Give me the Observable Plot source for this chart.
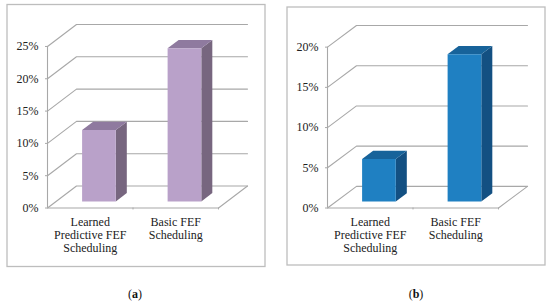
<!DOCTYPE html>
<html><head><meta charset="utf-8">
<script src="https://cdn.jsdelivr.net/npm/d3@7"></script>
<script src="https://cdn.jsdelivr.net/npm/@observablehq/plot@0.6"></script>
<style>
html,body{margin:0;padding:0;background:#fff;width:550px;height:303px;overflow:hidden}
.panel{position:absolute;top:0;width:275px;height:303px}
.panel svg{position:absolute;left:0;top:0;background:transparent}
.panel svg text{font-family:"Liberation Serif",serif !important;font-size:12px}
.cap{position:absolute;top:287px;font:12px "Liberation Serif",serif;color:#111;transform:translateX(-50%)}
.cap b{font-weight:bold}
</style></head><body>
<div id="a" class="panel" style="left:0"></div>
<div id="b" class="panel" style="left:275px"></div>
<script>
const categories = ["Learned\nPredictive FEF\nScheduling", "Basic FEF\nScheduling"];
const valuesA = [11.05, 23.7];
const valuesB = [5.3, 18.3];
const ticksA = [0, 5, 10, 15, 20, 25];
const ticksB = [0, 5, 10, 15, 20];
const coloursA = {front: "#b9a1c9", top: "#8f7a9f", side: "#77667f"};
const coloursB = {front: "#1f80c2", top: "#17639a", side: "#135082"};

function panel(cfg) {
  const {values, ticks, colours, rise, marginLeft, marginTop, frame} = cfg;
  const top = ticks[ticks.length - 1];
  // oblique projection: depth z (0 front, 1 back) shifts in x and in value
  const run = 0.339;
  const px = (x, z) => x + z * run;
  const py = (v, z) => v + z * rise;
  const z0 = 0.3, z1 = 0.68, half = 0.197;
  const pt = (id, x, v, z) => ({id, x: px(x, z), y: py(v, z)});

  const grid = ticks.flatMap((t) => [
    {id: t, x: px(0, 0), y: py(t, 0)},
    {id: t, x: px(0, 1), y: py(t, 1)},
    {id: t, x: px(2, 1), y: py(t, 1)}
  ]);
  const floorEdge = [pt("f", 2, 0, 0), pt("f", 2, 0, 1)];
  const bars = values.map((v, i) => ({c: i + 0.5, v}));
  const poly = (face) => bars.flatMap(({c, v}, i) => {
    const l = c - half, r = c + half, id = face + i;
    if (face === "front") return [pt(id, l, 0, z0), pt(id, r, 0, z0), pt(id, r, v, z0), pt(id, l, v, z0)];
    if (face === "top") return [pt(id, l, v, z0), pt(id, r, v, z0), pt(id, r, v, z1), pt(id, l, v, z1)];
    return [pt(id, r, 0, z0), pt(id, r, 0, z1), pt(id, r, v, z1), pt(id, r, v, z0)];
  });
  const stroke = "#a8a8a8";
  return Plot.plot({
    width: 275, height: 303,
    marginLeft, marginRight: 275 - marginLeft - cfg.floorW - 29,
    marginTop, marginBottom: 303 - cfg.bottom,
    style: {color: "#222", background: "transparent", overflow: "visible"},
    x: {domain: [0, 2 + run], axis: null},
    y: {domain: [0, top + rise], axis: null},
    marks: [
      () => {
        const r = document.createElementNS("http://www.w3.org/2000/svg", "rect");
        for (const [k, v] of Object.entries(frame)) r.setAttribute(k, v);
        r.setAttribute("fill", "none"); r.setAttribute("stroke", "#bdbdbd"); r.setAttribute("stroke-width", 1.3);
        return r;
      },
      Plot.line(grid, {x: "x", y: "y", z: "id", stroke, strokeWidth: 1.1}),
      Plot.line(floorEdge, {x: "x", y: "y", z: "id", stroke, strokeWidth: 1.1}),
      Plot.ruleX([0], {y1: 0, y2: top, stroke, strokeWidth: 1.1}),
      Plot.ruleY([0], {x1: 0, x2: 2, stroke, strokeWidth: 1.1}),
      Plot.ruleX([1, 2], {y1: 0, y2: -0.3 * top / 25, stroke, strokeWidth: 1}),
      Plot.line(poly("side"), {x: "x", y: "y", z: "id", fill: colours.side, stroke: "none"}),
      Plot.line(poly("top"), {x: "x", y: "y", z: "id", fill: colours.top, stroke: "none"}),
      Plot.line(poly("front"), {x: "x", y: "y", z: "id", fill: colours.front, stroke: "none"}),
      Plot.axisY({ticks, tickFormat: (d) => d + "%", tickSize: 2, tickPadding: 7, anchor: "left", label: null, stroke}),
      Plot.axisX({ticks: [0.5, 1.5], tickFormat: (d) => categories[d - 0.5], tickSize: 0, tickPadding: 9, anchor: "bottom", label: null, lineHeight: 1.09, lineAnchor: "top"})
    ]
  });
}

document.getElementById("a").append(panel({
  values: valuesA, ticks: ticksA, colours: coloursA, rise: 3.4,
  marginLeft: 47, marginTop: 24, bottom: 207.5, floorW: 171,
  frame: {x: 7, y: 4.5, width: 258, height: 262}
}));
document.getElementById("b").append(panel({
  values: valuesB, ticks: ticksB, colours: coloursB, rise: 2.69,
  marginLeft: 52, marginTop: 25, bottom: 207.5, floorW: 171,
  frame: {x: 12, y: 7, width: 258, height: 258}
}));
for (const [id, txt, left] of [["a", "a", 135], ["b", "b", 141]]) {
  const d = document.createElement("div");
  d.className = "cap"; d.style.left = left + "px";
  d.innerHTML = "(<b>" + txt + "</b>)";
  document.getElementById(id).append(d);
}
</script>
</body></html>
